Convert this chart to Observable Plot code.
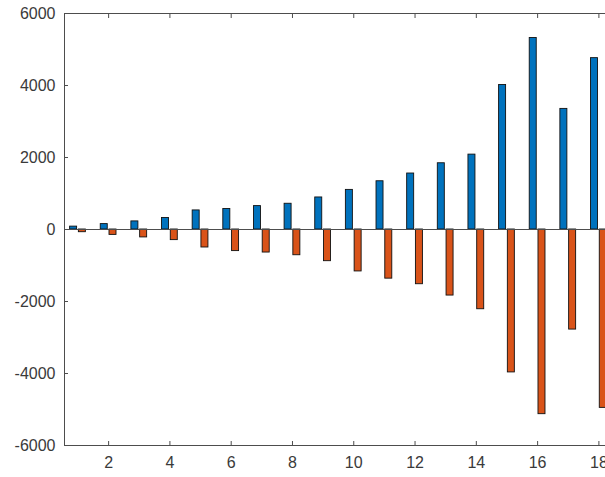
<!DOCTYPE html>
<html>
<head>
<meta charset="utf-8">
<script src="https://cdn.jsdelivr.net/npm/d3@7"></script>
<script src="https://cdn.jsdelivr.net/npm/@observablehq/plot@0.6"></script>
<style>
  html, body { margin: 0; padding: 0; background: #fff; overflow: hidden; }
  #chart { width: 605px; height: 477px; overflow: hidden; }
  #chart svg { max-width: none !important; }
</style>
</head>
<body>
<div id="chart"></div>
<script>
// Grouped bar data: one positive and one negative series per category
const categories = [1, 2, 3, 4, 5, 6, 7, 8, 9, 10, 11, 12, 13, 14, 15, 16, 17, 18];
const seriesPos = [80, 150, 225, 320, 530, 570, 650, 715, 890, 1100, 1340, 1555, 1840, 2080, 4015, 5320, 3350, 4760];
const seriesNeg = [-75, -150, -220, -295, -500, -600, -640, -715, -880, -1165, -1365, -1520, -1835, -2215, -3970, -5130, -2780, -4955];
const xTicks = [2, 4, 6, 8, 10, 12, 14, 16, 18, 20];
const yTicks = [-6000, -4000, -2000, 0, 2000, 4000, 6000];

const seriesNames = ["pos", "neg"];
const seriesColors = ["#0072BD", "#D95319"];

// Two bars per group: group width 2/3.5, each bar 80% of its slot
const groupWidth = 2 / 3.5;
const slot = groupWidth / 2;
const barWidth = slot * 0.8;

const rows = categories.flatMap((c, i) => [
  {x: c, series: "pos", value: seriesPos[i], off: -slot / 2},
  {x: c, series: "neg", value: seriesNeg[i], off: slot / 2}
]);

const axisColor = "#4d4d4d";
const textColor = "#3a3a3a";
const font = "'Liberation Sans', Arial, sans-serif";

const chart = Plot.plot({
  width: 675,
  height: 477,
  marginLeft: 64,
  marginRight: 0,
  marginTop: 13,
  marginBottom: 32,
  style: {fontFamily: font, fontSize: "16px", color: textColor, background: "#fff"},
  x: {domain: [0.56, 20.5], label: null},
  y: {domain: [-6000, 6000], label: null},
  color: {domain: seriesNames, range: seriesColors},
  marks: [
    Plot.rect(rows, {
      x1: d => d.x + d.off - barWidth / 2,
      x2: d => d.x + d.off + barWidth / 2,
      y1: 0,
      y2: "value",
      fill: "series",
      stroke: "#111",
      strokeWidth: 0.9
    }),
    Plot.ruleY([0], {stroke: axisColor, strokeWidth: 1}),
    Plot.frame({stroke: axisColor, strokeWidth: 1}),
    // tick labels
    Plot.axisX(xTicks, {anchor: "bottom", tickSize: 0, tickPadding: 11, tickFormat: d => String(d), fill: textColor, label: null}),
    Plot.axisY(yTicks, {anchor: "left", tickSize: 0, tickPadding: 9, tickFormat: d => String(d), fill: textColor, label: null}),
    // inward tick marks on every side
    Plot.axisX(xTicks, {anchor: "bottom", tickSize: -4, text: null, stroke: axisColor, label: null}),
    Plot.axisX(xTicks, {anchor: "top", tickSize: -4, text: null, stroke: axisColor, label: null}),
    Plot.axisY(yTicks, {anchor: "left", tickSize: -4, text: null, stroke: axisColor, label: null}),
    Plot.axisY(yTicks, {anchor: "right", tickSize: -4, text: null, stroke: axisColor, label: null})
  ]
});

document.getElementById("chart").appendChild(chart);
</script>
</body>
</html>
